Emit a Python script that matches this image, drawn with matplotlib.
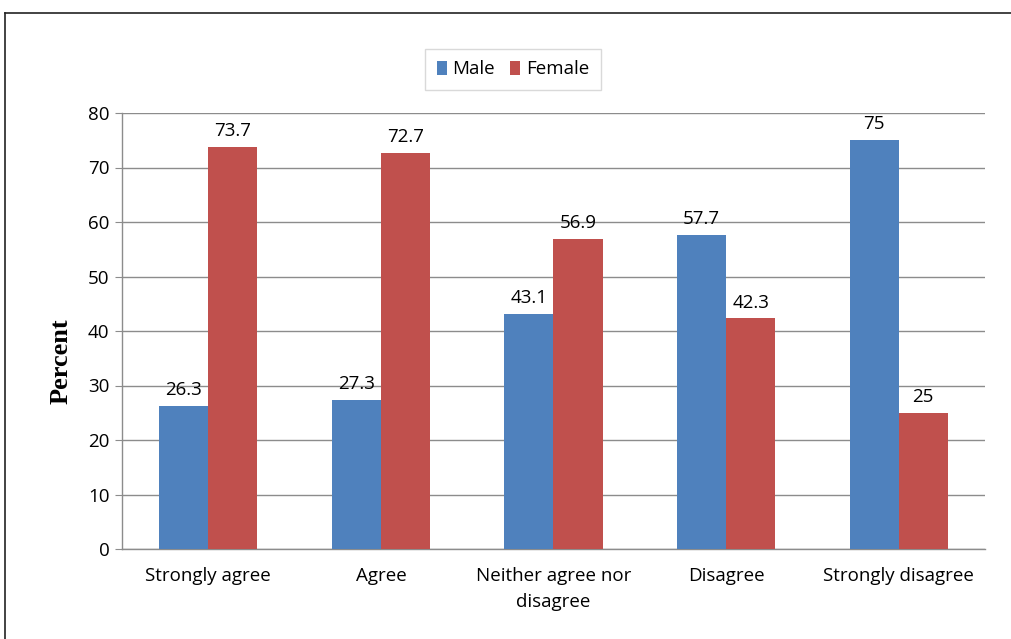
import matplotlib
matplotlib.use("Agg")
import matplotlib.pyplot as plt
import numpy as np
from matplotlib.lines import Line2D

categories = ["Strongly agree", "Agree", "Neither agree nor\ndisagree", "Disagree", "Strongly disagree"]
male = [26.3, 27.3, 43.1, 57.7, 75]
female = [73.7, 72.7, 56.9, 42.3, 25]
series_names = ["Male", "Female"]
yticks = [0, 10, 20, 30, 40, 50, 60, 70, 80]

blue = "#4F81BD"
red = "#C0504D"
grid_c = "#8C8C8C"

plt.rcParams['font.family'] = ['Open Sans', 'DejaVu Sans']
fs = 13.5

fig = plt.figure(figsize=(10.12, 6.39), dpi=100)
ax = fig.add_axes([122/1012, 1-549/639, (985-122)/1012, (549-113)/639])

x = np.arange(len(categories))
w = 0.285
b1 = ax.bar(x - w/2, male, w, color=blue, zorder=3, label=series_names[0])
b2 = ax.bar(x + w/2, female, w, color=red, zorder=3, label=series_names[1])

for bars, vals in ((b1, male), (b2, female)):
    for r, v in zip(bars, vals):
        ax.annotate(f"{v:g}", (r.get_x() + r.get_width()/2, v), xytext=(0, 5),
                    textcoords="offset points", ha="center", va="bottom", fontsize=fs, color="#000000")

ax.set_xlim(-0.5, 4.5)
ax.set_ylim(0, 80)
ax.set_yticks(yticks)
ax.set_xticks(x)
ax.set_xticklabels(categories, fontsize=fs, linespacing=1.6)
ax.tick_params(axis='y', labelsize=fs, length=5, color=grid_c, pad=4)
ax.tick_params(axis='x', length=0, pad=13)
ax.yaxis.grid(True, color=grid_c, linewidth=1.0, zorder=0)
for s in ("top", "right"):
    ax.spines[s].set_visible(False)
ax.spines["left"].set_color(grid_c)
ax.spines["bottom"].set_color(grid_c)
ax.spines["left"].set_linewidth(1.0)
ax.spines["bottom"].set_linewidth(1.0)

ax.set_ylabel("Percent", family="Liberation Serif", fontweight="bold", fontsize=19)
ax.yaxis.set_label_coords(-(122 - 73) / 863, (549 - 361) / 436)

leg = fig.legend(handles=[b1, b2], labels=series_names, loc="center", bbox_to_anchor=(513/1012, 1-69.5/639),
                 ncol=2, fontsize=fs, frameon=True, fancybox=False, edgecolor="#D0D0D0",
                 handlelength=0.55, handleheight=0.75, handletextpad=0.3, columnspacing=0.8,
                 borderpad=0.6, borderaxespad=0)
leg.get_frame().set_linewidth(1.0)

# partial outer frame (top and left)
fig.add_artist(Line2D([5/1012, 1.0], [1-13/639, 1-13/639], transform=fig.transFigure, color="#222222", linewidth=1.2))
fig.add_artist(Line2D([5/1012, 5/1012], [0, 1-13/639], transform=fig.transFigure, color="#222222", linewidth=1.2))

fig.savefig("out.png", dpi=100)
